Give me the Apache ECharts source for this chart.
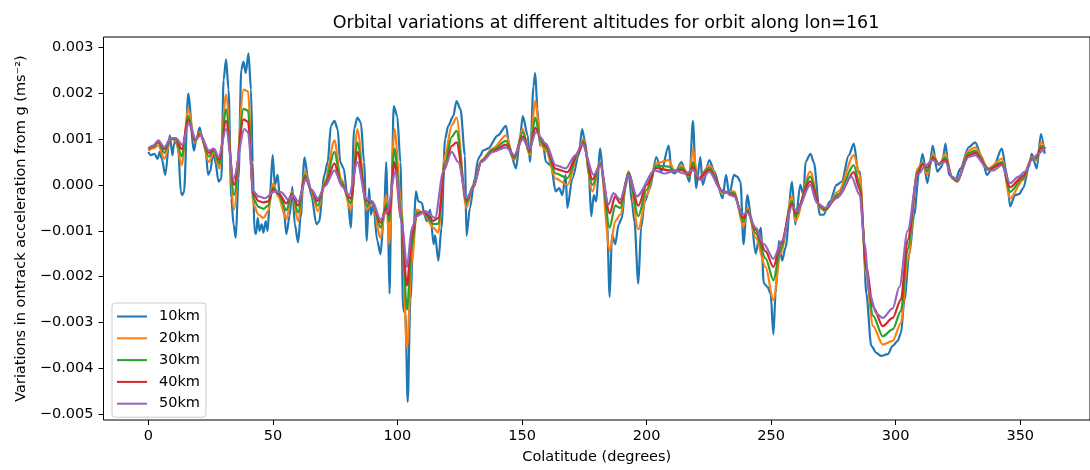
<!DOCTYPE html>
<html>
<head>
<meta charset="utf-8">
<script src="https://cdn.jsdelivr.net/npm/echarts@6/dist/echarts.min.js"></script>
<style>
html,body{margin:0;padding:0;background:#fff;}
#chart{width:1090px;height:470px;}
</style>
</head>
<body>
<div id="chart"></div>
<script>
// values in units of 1e-3 m s^-2, as [colatitude (deg), value]
const UNIT = 1e-3;
const seriesNames = ['10km', '20km', '30km', '40km', '50km'];
const xTicks = [0, 50, 100, 150, 200, 250, 300, 350];
const yTicks = [-5, -4, -3, -2, -1, 0, 1, 2, 3];

const km10 = [[0,0.72],[1,0.65],[2.4,0.68],[3.7,0.57],[4.6,0.72],[5.4,0.57],[6.8,0.22],[8.6,1.08],[9.7,0.65],[10.2,0.86],[11,1.0],[12,0.79],[13,-0.14],[13.6,-0.22],[14.3,-0.16],[16,1.99],[18.3,0.75],[19.2,0.97],[20.6,1.25],[21.6,1.04],[22.9,0.82],[24,0.22],[25,0.32],[25.9,0.75],[26.9,0.5],[28.2,0.07],[29.3,0.14],[30.2,2.29],[31.2,2.74],[32.2,2.08],[33.3,-0.29],[34.2,-0.86],[35.1,-1.15],[36.2,0.14],[37.3,2.51],[38.2,2.69],[39.1,2.44],[40.2,2.87],[41.2,2.08],[41.9,0.5],[42.6,-1.0],[43.2,-1.07],[43.9,-0.72],[44.6,-1.0],[45.5,-0.86],[46.2,-1.04],[47.1,-0.79],[47.9,-1.0],[48.8,-0.22],[49.9,0.65],[50.8,0.0],[51.9,0.22],[52.8,-0.29],[54.1,-0.36],[55.4,-1.07],[56.8,-0.65],[57.8,-0.04],[58.8,-0.86],[60.1,-1.25],[61.1,-0.72],[62.7,0.6],[64.1,0.14],[65.4,-0.22],[67.5,-0.86],[68.5,-0.8],[70.7,0.22],[72,0.5],[73.3,1.29],[74.7,1.40],[76,1.22],[77,0.5],[78.4,0.36],[80,-0.29],[81.3,-0.93],[82.6,1.22],[83.9,1.47],[85.3,1.36],[86.6,0.5],[87.7,-1.22],[88.6,-0.07],[89.3,-0.65],[90.3,-0.43],[91.9,-1.22],[93.2,-1.51],[94.6,-0.65],[95.5,0.5],[96.1,-0.5],[96.8,-2.37],[97.6,-0.2],[98.5,1.72],[99.9,1.5],[101.2,0.5],[102.3,-2.72],[103.2,-2.80],[104.1,-4.73],[105.2,-2.5],[106.5,-0.93],[107.4,-0.14],[108.4,-0.36],[109.8,-0.39],[110.8,-0.65],[111.8,-0.79],[113.1,-0.54],[114.5,-1.29],[115.1,-1.1],[116.4,-1.65],[117.7,-0.93],[119.1,1.0],[120.4,1.29],[122.4,1.5],[123.7,1.83],[125.3,1.65],[127.1,0.65],[127.7,-1.11],[129.1,-0.5],[131,0.14],[132.4,0.57],[133.3,0.64],[134.3,0.75],[136.3,0.79],[140.3,1.08],[143.6,1.29],[144.9,0.86],[145.6,0.65],[147.6,0.36],[148.9,0.86],[150.3,1.5],[152.3,1.08],[153.2,0.5],[154.6,2.15],[155.3,2.44],[156.2,1.65],[157.2,0.86],[158.2,1.0],[159.6,0.5],[161.6,0.43],[163.5,-0.14],[164.9,-0.07],[166.2,-0.22],[167.5,0.22],[168.2,-0.5],[170.2,0.14],[172.8,0.65],[174.1,1.22],[175.4,0.93],[176.8,0.22],[177.8,-0.68],[178.8,-0.22],[179.7,-0.36],[181.4,0.79],[182.8,0.07],[184.1,-0.79],[185.2,-2.44],[186.1,-1.08],[187.4,-1.29],[188.8,-0.86],[190.1,-0.72],[191.4,-0.07],[192.8,0.29],[194.1,-0.36],[195.1,-0.79],[196.7,-2.15],[197.8,-0.93],[199.3,-0.36],[201.3,-0.07],[203.9,0.61],[205.9,0.29],[208.9,0.86],[210,0.29],[211.3,0.25],[214,0.5],[216,0.22],[217.2,0.07],[218.6,1.4],[219.9,-0.07],[221.6,0.61],[222.5,0.0],[225.2,0.54],[227.2,0.29],[230.5,-0.29],[231.9,0.22],[233.2,-0.22],[235.1,0.22],[236.4,0.18],[237.7,0.07],[238.9,-1.29],[240.5,-0.22],[241.8,-0.65],[243.8,-1.5],[245.8,-0.93],[247.1,-2.15],[248.5,-2.22],[249.8,-2.37],[250.9,-3.26],[251.8,-2.37],[253.1,-1.22],[254.4,-1.65],[255.8,-1.36],[258.4,0.07],[259.7,-0.86],[261.7,0.0],[263,-0.22],[263.8,0.5],[265.8,0.68],[267.1,0.5],[269.6,-0.65],[271,-0.65],[273.6,-0.36],[276.3,0.0],[278.3,0.07],[281.2,0.65],[283.2,0.9],[285,0.29],[285.6,0.29],[286.9,-0.93],[288.2,-2.37],[290.2,-3.51],[292.2,-3.66],[294.2,-3.73],[296.8,-3.69],[298.8,-3.51],[300.8,-3.4],[302.1,-3.23],[303.5,-2.51],[305.5,-1.5],[307.4,-0.65],[309.4,0.29],[310.8,0.68],[312.7,0.04],[314.9,0.86],[316.7,0.29],[318.5,0.4],[320,0.9],[321.4,0.22],[324,0.11],[326,0.36],[329.3,0.82],[331.9,0.93],[334.6,0.61],[336.6,0.22],[339.3,0.4],[342.6,0.79],[344.6,0.25],[345.9,-0.47],[347.9,-0.22],[349.5,-0.2],[351.2,-0.07],[353.5,0.4],[354.6,0.68],[356.6,0.36],[358.3,1.11],[359.8,0.68]];

const km20 = [[0,0.75],[2,0.80],[4,0.86],[6.4,0.57],[9,1.0],[11,0.97],[13.4,0.43],[16,1.66],[18.7,0.93],[20.7,1.15],[24.3,0.5],[26.3,0.72],[28.5,0.36],[31.2,1.97],[34.4,-0.54],[38.2,2.08],[40,2.04],[42.2,-0.43],[44.2,-0.65],[46.2,-0.72],[48.1,-0.57],[50.1,0.04],[52.1,-0.25],[55.4,-0.75],[57.7,-0.14],[60.1,-0.79],[62.9,0.29],[65.5,-0.15],[68,-0.57],[71,0.1],[74.7,0.97],[77.3,0.14],[81.3,-0.54],[83.9,1.22],[87.6,-0.54],[89.9,-0.39],[93.2,-1.15],[95.6,-0.22],[96.6,-1.29],[98.8,1.22],[101.5,-0.4],[103.8,-3.55],[105.8,-1.65],[107.8,-0.54],[110.5,-0.61],[114.4,-0.93],[116.4,-1.04],[119.1,0.65],[121.8,1.3],[123.7,1.47],[127.7,-0.5],[130.4,0.0],[133.7,0.54],[138.3,0.8],[143.6,1.08],[146.9,0.54],[150.3,1.22],[153,0.65],[155.3,1.83],[157.6,0.86],[159.6,0.75],[163.5,0.14],[168.2,0.0],[172.8,0.72],[174.5,1.0],[178.3,-0.14],[181.4,0.5],[185.2,-1.43],[187.4,-0.79],[189.4,-0.65],[192.8,0.29],[196.7,-0.97],[200,-0.22],[203.9,0.47],[208.9,0.54],[211.3,0.29],[214,0.43],[217.2,0.18],[218.6,0.79],[220.6,0.11],[225.2,0.43],[230.5,-0.18],[235.1,-0.14],[238.9,-0.9],[240.5,-0.5],[243.8,-1.15],[247.8,-1.79],[250.9,-2.51],[253.8,-1.5],[258.4,-0.25],[259.7,-0.79],[265.7,0.29],[269.6,-0.5],[271.6,-0.57],[277,-0.14],[283.2,0.65],[285.6,0.22],[288.2,-2.0],[290.9,-3.08],[294.8,-3.48],[298.8,-3.4],[302.1,-3.01],[304.8,-1.65],[308.8,0.36],[310.8,0.5],[312.7,0.22],[314.9,0.68],[317.4,0.43],[320,0.68],[322.7,0.14],[324.7,0.07],[329.3,0.75],[331.9,0.82],[337.3,0.36],[342.6,0.57],[345.9,-0.29],[351.2,0.11],[354.6,0.61],[356.6,0.54],[358.3,0.93],[360,0.79]];

const km30 = [[0,0.78],[2,0.83],[4,0.92],[6.4,0.70],[9,1.01],[11,1.0],[13.4,0.62],[16,1.50],[18.7,0.96],[20.7,1.12],[24.3,0.62],[26.3,0.76],[28.5,0.46],[31.2,1.65],[34.4,-0.22],[38.2,1.66],[40,1.62],[42.2,-0.3],[44.2,-0.48],[46.2,-0.52],[48.1,-0.45],[50.1,-0.05],[52.1,-0.2],[55.4,-0.55],[57.7,-0.18],[60.1,-0.6],[62.9,0.22],[65.5,-0.13],[68,-0.45],[71,0.05],[74.7,0.72],[77.3,0.08],[81.3,-0.40],[83.9,0.93],[87.6,-0.45],[89.9,-0.38],[93.2,-0.93],[95.6,-0.4],[96.6,-0.8],[98.8,0.79],[101.5,-0.6],[103.8,-2.72],[105.8,-1.3],[107.8,-0.6],[110.5,-0.6],[114.4,-0.85],[116.4,-0.85],[119.1,0.5],[121.8,1.05],[123.7,1.18],[127.7,-0.39],[130.4,-0.03],[133.7,0.52],[138.3,0.77],[143.6,0.96],[146.9,0.58],[150.3,1.15],[153,0.7],[155.3,1.47],[157.6,0.93],[159.6,0.8],[163.5,0.25],[168.2,0.15],[172.8,0.72],[174.5,0.95],[178.3,0.0],[181.4,0.47],[185.2,-0.93],[187.4,-0.45],[189.4,-0.5],[192.8,0.26],[196.7,-0.68],[200,-0.1],[203.9,0.42],[208.9,0.4],[211.3,0.3],[214,0.38],[217.2,0.2],[218.6,0.5],[220.6,0.12],[225.2,0.38],[230.5,-0.15],[235.1,-0.18],[238.9,-0.8],[240.5,-0.55],[243.8,-1.05],[247.8,-1.6],[250.9,-2.08],[253.8,-1.4],[258.4,-0.35],[259.7,-0.68],[265.7,0.18],[269.6,-0.48],[271.6,-0.55],[277,-0.2],[283.2,0.43],[285.6,0.0],[288.2,-1.9],[290.9,-2.85],[294.8,-3.3],[298.8,-3.15],[302.1,-2.75],[304.8,-1.4],[308.8,0.3],[310.8,0.47],[312.7,0.3],[314.9,0.62],[317.4,0.45],[320,0.6],[322.7,0.15],[324.7,0.08],[329.3,0.7],[331.9,0.75],[337.3,0.34],[342.6,0.5],[345.9,-0.15],[351.2,0.15],[354.6,0.58],[356.6,0.58],[358.3,0.85],[360,0.8]];

const km40 = [[0,0.79],[2,0.85],[4,0.95],[6.4,0.78],[9,1.02],[11,1.01],[13.4,0.78],[16,1.42],[18.7,0.98],[20.7,1.10],[24.3,0.70],[26.3,0.78],[28.5,0.55],[31.2,1.40],[34.4,0.0],[38.2,1.43],[40,1.38],[42.2,-0.2],[44.2,-0.35],[46.2,-0.38],[48.1,-0.36],[50.1,-0.1],[52.1,-0.17],[55.4,-0.4],[57.7,-0.2],[60.1,-0.45],[62.9,0.17],[65.5,-0.12],[68,-0.35],[71,0.0],[74.7,0.47],[77.3,0.02],[81.3,-0.3],[83.9,0.72],[87.6,-0.35],[89.9,-0.37],[93.2,-0.82],[95.6,-0.5],[96.6,-0.65],[98.8,0.5],[101.5,-0.75],[103.8,-2.19],[105.8,-1.1],[107.8,-0.65],[110.5,-0.58],[114.4,-0.78],[116.4,-0.72],[119.1,0.4],[121.8,0.85],[123.7,0.93],[127.7,-0.33],[130.4,-0.05],[133.7,0.51],[138.3,0.74],[143.6,0.88],[146.9,0.62],[150.3,1.06],[153,0.75],[155.3,1.25],[157.6,1.0],[159.6,0.85],[163.5,0.35],[168.2,0.28],[172.8,0.72],[174.5,0.92],[178.3,0.12],[181.4,0.45],[185.2,-0.62],[187.4,-0.25],[189.4,-0.4],[192.8,0.24],[196.7,-0.45],[200,0.0],[203.9,0.37],[208.9,0.32],[211.3,0.31],[214,0.33],[217.2,0.22],[218.6,0.4],[220.6,0.13],[225.2,0.33],[230.5,-0.13],[235.1,-0.22],[238.9,-0.72],[240.5,-0.58],[243.8,-0.98],[247.8,-1.45],[250.9,-1.79],[253.8,-1.3],[258.4,-0.42],[259.7,-0.62],[265.7,0.08],[269.6,-0.45],[271.6,-0.52],[277,-0.25],[283.2,0.28],[285.6,-0.1],[288.2,-1.8],[290.9,-2.65],[294.8,-3.08],[298.8,-2.9],[302.1,-2.5],[304.8,-1.2],[308.8,0.25],[310.8,0.45],[312.7,0.38],[314.9,0.58],[317.4,0.46],[320,0.55],[322.7,0.17],[324.7,0.1],[329.3,0.65],[331.9,0.7],[337.3,0.33],[342.6,0.46],[345.9,-0.05],[351.2,0.2],[354.6,0.56],[356.6,0.62],[358.3,0.8],[360,0.81]];

const km50 = [[0,0.80],[2,0.86],[4,0.97],[6.4,0.82],[9,1.02],[11,1.02],[13.7,0.87],[16.3,1.36],[19,1.0],[21,1.08],[24.3,0.75],[26.3,0.79],[28.2,0.61],[31.2,1.22],[34.2,0.14],[38.6,1.22],[40,1.15],[42.2,-0.14],[44.2,-0.25],[46.8,-0.29],[50.8,-0.14],[53.4,-0.16],[56.1,-0.32],[58.1,-0.22],[60.1,-0.36],[63.4,0.14],[65.5,-0.1],[68,-0.29],[71,-0.02],[74.7,0.32],[78,-0.04],[80.6,-0.22],[83.9,0.5],[87.3,-0.29],[89.9,-0.36],[93.2,-0.75],[95.9,-0.57],[99.2,0.29],[101.9,-0.86],[103.8,-1.79],[105.8,-0.93],[107.8,-0.68],[111.1,-0.57],[115.1,-0.72],[118.4,0.29],[121.8,0.72],[124.4,0.5],[127.7,-0.29],[130.4,-0.07],[133.7,0.5],[138.3,0.72],[143.6,0.82],[146.9,0.65],[150.3,1.0],[153,0.79],[155.6,1.15],[159.6,0.9],[163.5,0.43],[167.5,0.36],[171.5,0.65],[174.1,0.9],[178.8,0.22],[181.4,0.43],[184.7,-0.43],[186.7,-0.18],[189.4,-0.32],[192.8,0.22],[196.1,-0.25],[203.3,0.32],[207.3,0.25],[211.3,0.32],[215.2,0.25],[218.6,0.32],[221.9,0.11],[225.2,0.29],[229.8,-0.11],[235.1,-0.25],[238.5,-0.65],[240.5,-0.61],[243.8,-0.93],[247.1,-1.29],[250.9,-1.61],[254.4,-1.22],[258.4,-0.47],[260.4,-0.57],[265.7,0.0],[268.4,-0.39],[271.6,-0.5],[276.3,-0.29],[282.2,0.18],[285.6,-0.22],[287.5,-1.29],[289.5,-2.37],[292.2,-2.80],[294.8,-2.90],[298.8,-2.69],[301.5,-2.22],[304.8,-1.0],[308.8,0.22],[312.1,0.43],[314.7,0.54],[317.4,0.47],[320,0.5],[322.7,0.18],[324.7,0.11],[329.3,0.61],[331.9,0.65],[337.3,0.32],[339.3,0.32],[342.6,0.43],[345.9,0.04],[349.3,0.18],[351.9,0.29],[354.6,0.54],[357.2,0.68],[359.8,0.82]];

const allSeries = [km10, km20, km30, km40, km50];
const colors = ['#1f77b4', '#ff7f0e', '#2ca02c', '#d62728', '#9467bd'];
const FONT = 'DejaVu Sans';
const FS = 14.5;

function fmtY(v) {
  const s = Math.abs(v).toFixed(3);
  return (v < -1e-12 ? '\u2212' : '') + s;
}

const chart = echarts.init(document.getElementById('chart'), null, {renderer: 'canvas'});
chart.setOption({
  animation: false,
  backgroundColor: '#ffffff',
  title: {
    text: 'Orbital variations at different altitudes for orbit along lon=161',
    left: 601, top: 9, textAlign: 'center',
    textStyle: {fontFamily: FONT, fontSize: 17.5, fontWeight: 'normal', color: '#000'}
  },
  grid: {
    left: 103.5, top: 37, width: 995.8, height: 388,
    show: true, borderColor: '#000', borderWidth: 1, backgroundColor: 'transparent'
  },
  legend: {
    orient: 'vertical', left: 112, top: 303,
    data: seriesNames,
    icon: 'rect', itemWidth: 30, itemHeight: 2, itemGap: 6.8,
    padding: [6, 6, 6, 5],
    backgroundColor: 'rgba(255,255,255,0.8)',
    borderColor: '#cccccc', borderWidth: 1, borderRadius: 3,
    textStyle: {fontFamily: FONT, fontSize: FS, color: '#000', lineHeight: 15, padding: [0, 0, 0, 7]}
  },
  xAxis: {
    type: 'value', min: -18, max: 378,
    name: 'Colatitude (degrees)', nameLocation: 'middle', nameGap: 30,
    nameTextStyle: {fontFamily: FONT, fontSize: FS, color: '#000'},
    axisLine: {show: false, onZero: false},
    axisTick: {show: true, length: 5, lineStyle: {color: '#000', width: 1}, customValues: xTicks},
    axisLabel: {show: true, margin: 9, fontFamily: FONT, fontSize: FS, color: '#000', customValues: xTicks,
      formatter: v => String(Math.round(v))},
    splitLine: {show: false}
  },
  yAxis: {
    type: 'value', min: -5.125 * UNIT, max: 3.226 * UNIT,
    name: 'Variations in ontrack acceleration from g (ms\u207B\u00B2)', nameLocation: 'middle', nameGap: 74,
    nameTextStyle: {fontFamily: FONT, fontSize: FS, color: '#000'},
    axisLine: {show: false, onZero: false},
    axisTick: {show: true, length: 5, lineStyle: {color: '#000', width: 1}, customValues: yTicks.map(t => t * UNIT)},
    axisLabel: {show: true, margin: 10, fontFamily: FONT, fontSize: FS, color: '#000', customValues: yTicks.map(t => t * UNIT),
      formatter: fmtY},
    splitLine: {show: false}
  },
  series: allSeries.map((d, i) => ({
    name: seriesNames[i],
    type: 'line',
    data: d.map(p => [p[0], p[1] * UNIT]),
    showSymbol: false,
    smooth: 0.3,
    smoothMonotone: 'x',
    clip: true,
    lineStyle: {color: colors[i], width: 2.2},
    itemStyle: {color: colors[i]},
    emphasis: {disabled: true}
  }))
});
</script>
</body>
</html>
